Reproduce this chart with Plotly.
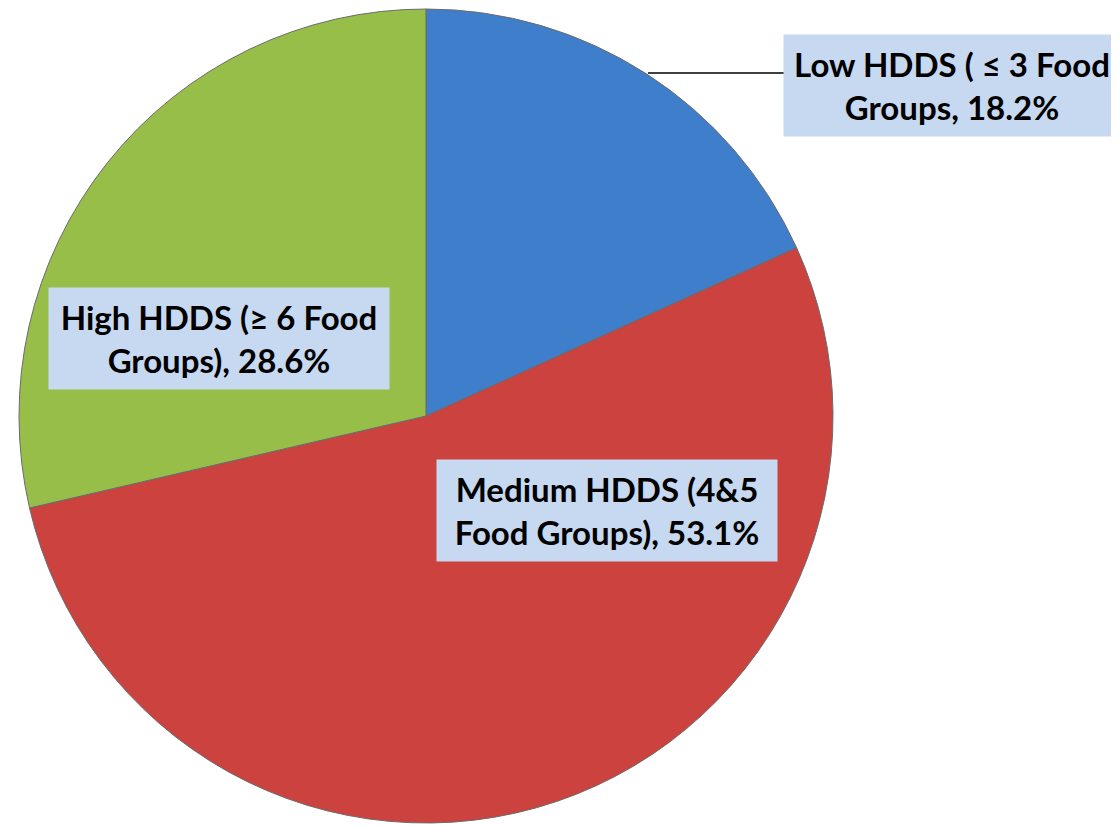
import plotly.graph_objects as go

W, H = 1119, 826
OFF = 8  # page margin the figure is drawn with

labels = ["Low HDDS ( \u2264 3 Food<br>Groups", "Medium HDDS (4&5<br>Food Groups)", "High HDDS (\u2265 6 Food<br>Groups)"]
values = [18.2, 53.1, 28.6]
colors = ["#3f7ecb", "#cb423f", "#97be48"]

# pie placement in pixels (center and radius)
cx, cy, r = 426 - OFF, 416 - OFF, 407

fig = go.Figure()
fig.add_trace(go.Pie(
    labels=labels,
    values=values,
    sort=False,
    direction="clockwise",
    rotation=0,
    textinfo="none",
    marker=dict(colors=colors, line=dict(color="#6b6b6b", width=1)),
    domain=dict(x=[(cx - r) / W, (cx + r) / W], y=[(H - cy - r) / H, (H - cy + r) / H]),
    showlegend=False,
))

# label box centres in pixels
box_pos = [(952, 85.5), (607, 510.5), (219, 338.5)]
box_w = [334, 338, 338]

for lab, val, (px, py), bw in zip(labels, values, box_pos, box_w):
    fig.add_annotation(
        x=(px - OFF) / W, y=1 - (py - OFF) / H, xref="paper", yref="paper",
        xanchor="center", yanchor="middle",
        text="<b>" + lab + ", " + "{:.1f}%".format(val) + "</b>",
        showarrow=False,
        width=bw, height=99,
        bgcolor="#c6d9f1",
        font=dict(family="Lato", size=33, color="black"),
        align="center", valign="middle",
    )

# leader line for the outside label
fig.add_shape(type="line", xref="paper", yref="paper",
              x0=(648 - OFF) / W, x1=(785 - OFF) / W,
              y0=1 - (73 - OFF) / H, y1=1 - (73 - OFF) / H,
              line=dict(color="black", width=1.5))

fig.update_layout(
    width=W, height=H,
    margin=dict(l=0, r=0, t=0, b=0),
    paper_bgcolor="white",
    plot_bgcolor="white",
)

fig.write_html("out.html")
